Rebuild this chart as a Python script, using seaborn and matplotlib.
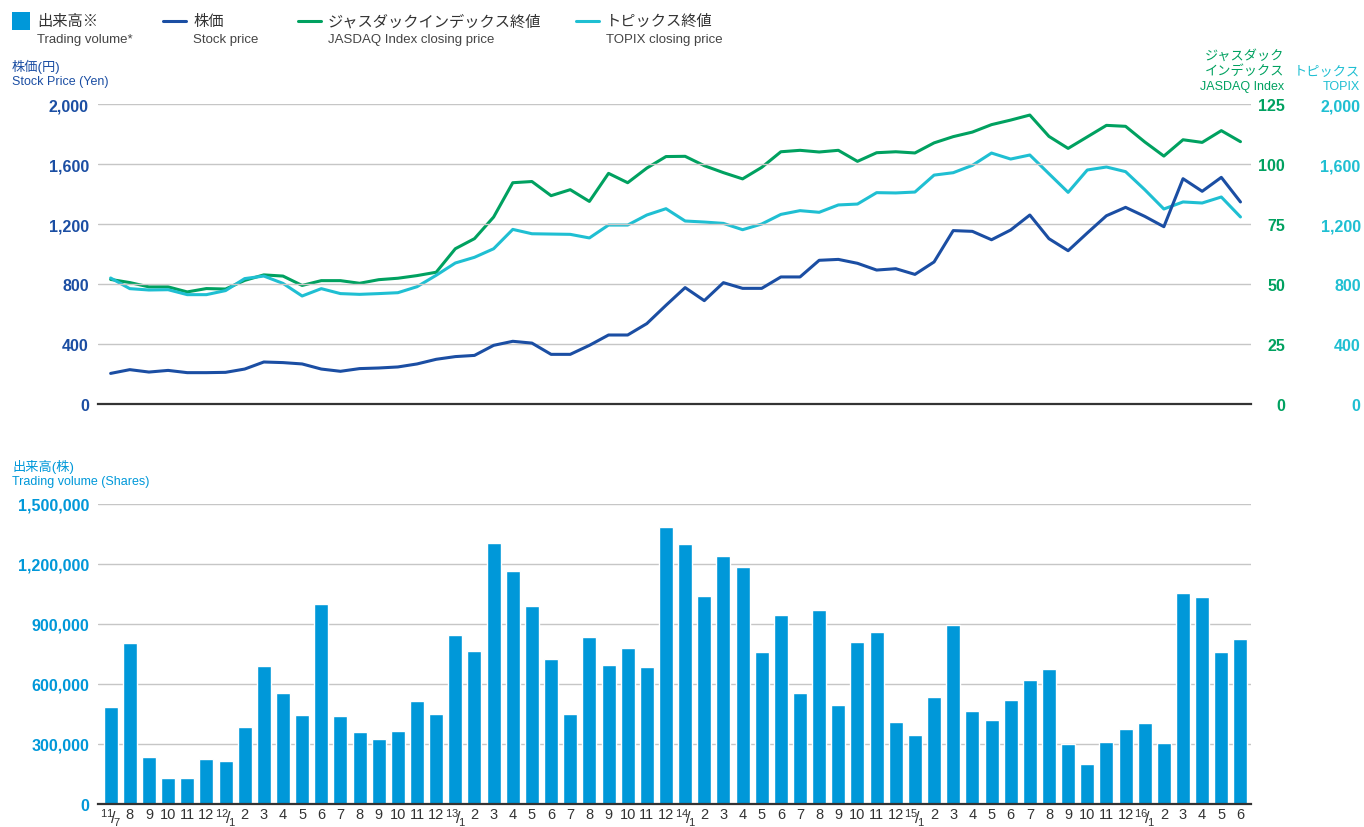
import numpy as np
import pandas as pd
import matplotlib
matplotlib.use("Agg")
import matplotlib.pyplot as plt
import seaborn as sns
from matplotlib import font_manager
from matplotlib.lines import Line2D
from matplotlib.patches import Rectangle
from matplotlib.ticker import FuncFormatter

# monthly data, 2011/7 .. 2016/6
months = [7, 8, 9, 10, 11, 12] + list(range(1, 13)) * 4 + [1, 2, 3, 4, 5, 6]
years = [11] * 6 + [12] * 12 + [13] * 12 + [14] * 12 + [15] * 12 + [16] * 6

volume = [487000, 803000, 233000, 128000, 128000, 223000,
          213000, 383000, 688000, 553000, 443000, 998000, 438000, 358000, 323000, 363000, 513000, 448000,
          843000, 767000, 1307000, 1167000, 992000, 727000, 452000, 837000, 697000, 782000, 687000, 1387000,
          1302000, 1042000, 1242000, 1187000, 762000, 947000, 557000, 972000, 497000, 812000, 862000, 412000,
          347000, 537000, 897000, 467000, 422000, 522000, 622000, 677000, 302000, 202000, 312000, 377000,
          407000, 307000, 1057000, 1037000, 762000, 827000]

stock_price = [204, 229, 213, 224, 209, 209,
               211, 233, 280, 276, 267, 233, 218, 236, 240, 247, 267, 298,
               316, 324, 391, 418, 406, 331, 331, 391, 460, 460, 536, 658,
               776, 689, 809, 771, 771, 847, 847, 958, 964, 938, 893, 902,
               864, 947, 1156, 1151, 1095, 1160, 1260, 1102, 1022, 1140, 1255, 1311,
               1251, 1182, 1502, 1418, 1511, 1347]

jasdaq = [51.9, 50.6, 48.8, 48.8, 46.7, 48.1,
          47.9, 51.5, 53.8, 53.3, 49.4, 51.4, 51.4, 50.3, 51.8, 52.4, 53.5, 54.9,
          64.7, 68.9, 77.9, 92.2, 92.7, 86.8, 89.3, 84.4, 96.1, 92.2, 98.3, 103.1,
          103.2, 99.3, 96.4, 93.8, 98.6, 105.1, 105.7, 105.0, 105.7, 101.1, 104.7, 105.1,
          104.6, 108.8, 111.4, 113.3, 116.4, 118.3, 120.4, 111.5, 106.5, 111.3, 116.1, 115.7,
          109.2, 103.3, 110.1, 109.0, 113.9, 109.3]

topix = [840, 769, 760, 762, 729, 729,
         756, 836, 853, 804, 720, 769, 736, 731, 736, 742, 782, 858,
         940, 978, 1035, 1164, 1135, 1133, 1131, 1107, 1193, 1193, 1260, 1302,
         1220, 1213, 1204, 1162, 1200, 1264, 1289, 1278, 1327, 1333, 1409, 1407,
         1413, 1526, 1542, 1591, 1673, 1633, 1660, 1535, 1411, 1560, 1580, 1549,
         1429, 1300, 1347, 1340, 1380, 1247]

price_ticks = [0, 400, 800, 1200, 1600, 2000]
jasdaq_ticks = [0, 25, 50, 75, 100, 125]
volume_ticks = [0, 300000, 600000, 900000, 1200000, 1500000]

C_BAR = "#0098d9"
C_STOCK = "#1b4ea3"
C_JASDAQ = "#00a160"
C_TOPIX = "#1fbfd2"
C_GRID = "#c6c6c6"
C_AXIS = "#333333"

installed = {f.name for f in font_manager.fontManager.ttflist}
narrow = "Liberation Sans Narrow" if "Liberation Sans Narrow" in installed else "Liberation Sans"

sns.set_style("white")
plt.rcParams["font.family"] = ["Liberation Sans", "Noto Sans CJK JP", "DejaVu Sans"]
plt.rcParams["mathtext.fontset"] = "custom"
plt.rcParams["mathtext.rm"] = narrow
plt.rcParams["mathtext.it"] = narrow

df = pd.DataFrame({"idx": np.arange(len(months)), "month": months, "year": years,
                   "volume": volume, "stock": stock_price, "jasdaq": jasdaq, "topix": topix})

W, H = 1364, 828
fig = plt.figure(figsize=(W / 100, H / 100), dpi=100)


def fx(x):
    return x / W


def fy(y):
    return 1 - y / H


left, right = 98, 1251
ax1 = fig.add_axes([fx(left), fy(405), fx(right - left), fy(105) - fy(405)])
ax2 = fig.add_axes([fx(left), fy(805), fx(right - left), fy(505) - fy(805)])
xlim = (-0.66, 59.55)

# ---- top: prices ----
sns.lineplot(data=df, x="idx", y="stock", ax=ax1, color=C_STOCK, linewidth=2.2, zorder=4)
ax1.set_ylim(0, 2000)
ax1.set_xlim(*xlim)
ax1.set_yticks(price_ticks)
ax1.yaxis.set_major_formatter(FuncFormatter(lambda v, p: f"{int(v):,}"))

axj = ax1.twinx()
sns.lineplot(data=df, x="idx", y="jasdaq", ax=axj, color=C_JASDAQ, linewidth=2.2)
axj.set_ylim(0, 125)
axj.set_yticks(jasdaq_ticks)

axt = ax1.twinx()
sns.lineplot(data=df, x="idx", y="topix", ax=axt, color=C_TOPIX, linewidth=2.2)
axt.set_ylim(0, 2000)
axt.set_yticks(price_ticks)
axt.yaxis.set_major_formatter(FuncFormatter(lambda v, p: f"{int(v):,}"))
ax1.set_zorder(axt.get_zorder() + 1)
ax1.patch.set_visible(False)

for a in (ax1, axj, axt):
    a.set_xlim(*xlim)
    a.set_xlabel("")
    a.set_ylabel("")
    a.set_xticks([])
    for s in a.spines.values():
        s.set_visible(False)

ax1.yaxis.grid(True, color=C_GRID, linewidth=1)
ax1.set_axisbelow(True)
ax1.spines["bottom"].set_visible(True)
ax1.spines["bottom"].set_color(C_AXIS)
ax1.spines["bottom"].set_linewidth(1.6)
ax1.spines["bottom"].set_zorder(6)
ax1.tick_params(axis="y", length=0, pad=6.5, labelsize=11.5, labelcolor=C_STOCK)
for t in ax1.get_yticklabels():
    t.set_fontweight("bold")

axj.tick_params(axis="y", length=0, pad=24.5, labelsize=11.5, labelcolor=C_JASDAQ)
for t in axj.get_yticklabels():
    t.set_fontweight("bold")
    t.set_horizontalalignment("right")
axt.tick_params(axis="y", length=0, pad=79, labelsize=11.5, labelcolor=C_TOPIX)
for t in axt.get_yticklabels():
    t.set_fontweight("bold")
    t.set_horizontalalignment("right")

# ---- bottom: volume ----
sns.barplot(data=df, x="idx", y="volume", ax=ax2, color=C_BAR, width=0.73,
            native_scale=True, saturation=1, zorder=3)
ax2.set_xlim(*xlim)
ax2.set_ylim(0, 1500000)
ax2.set_yticks(volume_ticks)
ax2.yaxis.set_major_formatter(FuncFormatter(lambda v, p: f"{int(v):,}"))
ax2.yaxis.grid(True, color=C_GRID, linewidth=1)
ax2.set_axisbelow(True)
ax2.set_xlabel("")
ax2.set_ylabel("")
for s in ax2.spines.values():
    s.set_visible(False)
ax2.spines["bottom"].set_visible(True)
ax2.spines["bottom"].set_color(C_AXIS)
ax2.spines["bottom"].set_linewidth(1.6)
ax2.spines["bottom"].set_zorder(6)
ax2.tick_params(axis="y", length=0, pad=6.5, labelsize=11.5, labelcolor=C_BAR)
for t in ax2.get_yticklabels():
    t.set_fontweight("bold")

xlabels = []
for m, yv in zip(months, years):
    if m == 1 or (yv == 11 and m == 7):
        xlabels.append(r"$^{%d}\!/\!_{%d}$" % (yv, m))
    else:
        xlabels.append(str(m))
ax2.set_xticks(df["idx"])
ax2.set_xticklabels(xlabels, fontsize=10.5, color="#333333", family=narrow)
for t in ax2.get_xticklabels():
    if "/" in t.get_text():
        t.set_fontsize(11.5)
ax2.tick_params(axis="x", length=0, pad=2)

# ---- axis titles ----
fig.text(fx(12), fy(67), "株価(円)", fontsize=9.5, color=C_STOCK, va="center")
fig.text(fx(12), fy(82), "Stock Price (Yen)", fontsize=9, color=C_STOCK, va="center")
fig.text(fx(1284), fy(56), "ジャスダック", fontsize=9.5, color=C_JASDAQ, va="center", ha="right")
fig.text(fx(1284), fy(72), "インデックス", fontsize=9.5, color=C_JASDAQ, va="center", ha="right")
fig.text(fx(1284), fy(87), "JASDAQ Index", fontsize=9, color=C_JASDAQ, va="center", ha="right")
fig.text(fx(1360), fy(72), "トピックス", fontsize=9.5, color=C_TOPIX, va="center", ha="right")
fig.text(fx(1360), fy(87), "TOPIX", fontsize=9, color=C_TOPIX, va="center", ha="right")
fig.text(fx(12), fy(467), "出来高(株)", fontsize=9.5, color=C_BAR, va="center")
fig.text(fx(12), fy(482), "Trading volume (Shares)", fontsize=9, color=C_BAR, va="center")

# ---- legend ----
fig.add_artist(Rectangle((fx(12), fy(31)), fx(18), fy(13) - fy(31), transform=fig.transFigure,
                         color=C_BAR, lw=0))
legend_items = [
    (163, C_STOCK, "株価", "Stock price"),
    (298, C_JASDAQ, "ジャスダックインデックス終値", "JASDAQ Index closing price"),
    (576, C_TOPIX, "トピックス終値", "TOPIX closing price"),
]
fig.text(fx(37), fy(22), "出来高※", fontsize=11, color="#333333", va="center")
fig.text(fx(37), fy(40), "Trading volume*", fontsize=9.5, color="#444444", va="center")
for x0, c, jp, en in legend_items:
    fig.add_artist(Line2D([fx(x0), fx(x0 + 23)], [fy(22), fy(22)], transform=fig.transFigure,
                          color=c, linewidth=2.2))
    fig.text(fx(x0 + 30), fy(22), jp, fontsize=11, color="#333333", va="center")
    fig.text(fx(x0 + 30), fy(40), en, fontsize=9.5, color="#444444", va="center")

fig.savefig("out.png", dpi=100)
